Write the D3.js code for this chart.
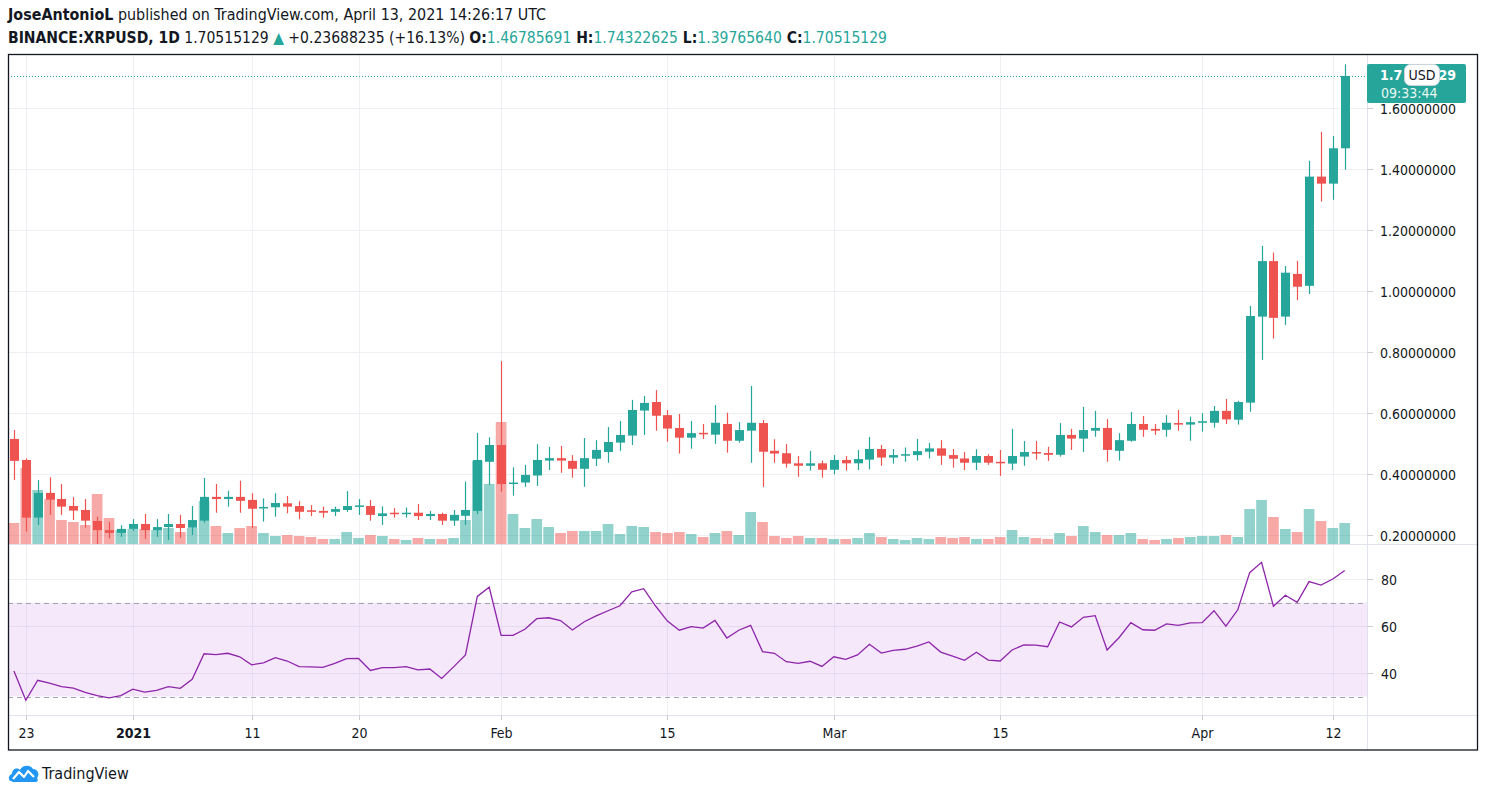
<!DOCTYPE html>
<html><head><meta charset="utf-8">
<script src="https://cdn.jsdelivr.net/npm/d3@7"></script>
<style>
body{margin:0;background:#fff;}
svg{display:block;font-family:"Liberation Sans Narrow","DejaVu Sans Condensed",Roboto,sans-serif;}
</style>
</head><body><svg id="c" width="1486" height="797"></svg>
<script>
// ---------- DATA ----------
const startDate = "2020-12-22";
const opens  = [0.515,0.446,0.257,0.338,0.318,0.295,0.282,0.246,0.216,0.207,0.220,0.236,0.216,0.226,0.236,0.224,0.247,0.325,0.318,0.325,
  0.315,0.288,0.291,0.304,0.295,0.281,0.279,0.276,0.282,0.294,0.295,0.262,0.273,0.269,0.273,0.262,0.269,0.247,0.263,0.279,
  0.440,0.495,0.367,0.372,0.395,0.444,0.452,0.443,0.417,0.450,0.472,0.503,0.526,0.608,0.636,0.593,0.551,0.519,0.535,0.529,
  0.564,0.509,0.542,0.567,0.476,0.468,0.435,0.427,0.435,0.414,0.446,0.435,0.447,0.482,0.454,0.460,0.462,0.473,0.484,0.462,
  0.451,0.437,0.459,0.440,0.434,0.457,0.472,0.469,0.463,0.528,0.516,0.542,0.551,0.476,0.509,0.564,0.548,0.545,0.567,0.562,
  0.568,0.568,0.607,0.578,0.634,0.916,1.098,0.916,1.056,1.017,1.375,1.352,1.46785691];
const highs  = [0.544,0.451,0.380,0.389,0.367,0.324,0.318,0.260,0.243,0.232,0.252,0.269,0.252,0.269,0.266,0.295,0.387,0.367,0.345,0.378,
  0.337,0.320,0.337,0.328,0.311,0.298,0.293,0.293,0.344,0.318,0.315,0.294,0.288,0.290,0.302,0.279,0.273,0.282,0.375,0.535,
  0.520,0.770,0.422,0.430,0.498,0.489,0.492,0.462,0.518,0.511,0.554,0.574,0.643,0.656,0.675,0.610,0.597,0.574,0.564,0.626,
  0.601,0.570,0.689,0.577,0.514,0.498,0.459,0.476,0.444,0.462,0.459,0.479,0.521,0.495,0.482,0.487,0.515,0.502,0.511,0.482,
  0.472,0.481,0.465,0.479,0.548,0.508,0.508,0.489,0.567,0.548,0.620,0.607,0.580,0.534,0.603,0.590,0.564,0.593,0.610,0.588,
  0.599,0.623,0.646,0.640,0.951,1.148,1.126,1.082,1.099,1.427,1.522,1.508,1.74322625];
const lows   = [0.380,0.211,0.233,0.266,0.266,0.249,0.224,0.170,0.189,0.194,0.214,0.187,0.194,0.184,0.191,0.200,0.240,0.273,0.293,0.273,
  0.224,0.244,0.260,0.271,0.252,0.262,0.257,0.262,0.276,0.266,0.247,0.233,0.257,0.257,0.249,0.249,0.233,0.230,0.233,0.268,
  0.364,0.342,0.329,0.358,0.361,0.413,0.404,0.388,0.358,0.426,0.437,0.476,0.495,0.528,0.542,0.506,0.467,0.483,0.515,0.499,
  0.470,0.503,0.437,0.358,0.437,0.421,0.391,0.411,0.388,0.399,0.411,0.413,0.415,0.427,0.434,0.440,0.444,0.451,0.430,0.421,
  0.413,0.413,0.430,0.394,0.413,0.427,0.447,0.443,0.457,0.479,0.472,0.522,0.440,0.444,0.506,0.522,0.528,0.522,0.542,0.509,
  0.539,0.552,0.564,0.562,0.604,0.774,0.844,0.889,0.970,0.990,1.293,1.299,1.39765640];
const closes = [0.443,0.257,0.338,0.316,0.293,0.280,0.247,0.216,0.207,0.220,0.236,0.216,0.226,0.236,0.223,0.249,0.325,0.318,0.325,0.312,
  0.286,0.292,0.305,0.293,0.276,0.276,0.273,0.285,0.295,0.297,0.266,0.271,0.269,0.273,0.262,0.269,0.247,0.266,0.282,0.446,
  0.495,0.367,0.372,0.397,0.446,0.452,0.444,0.417,0.452,0.479,0.505,0.528,0.610,0.633,0.591,0.549,0.519,0.534,0.530,0.568,
  0.509,0.544,0.568,0.473,0.467,0.434,0.427,0.435,0.414,0.446,0.435,0.449,0.482,0.454,0.462,0.465,0.475,0.484,0.460,0.450,
  0.437,0.459,0.437,0.435,0.459,0.472,0.467,0.463,0.528,0.516,0.544,0.551,0.479,0.511,0.564,0.545,0.542,0.568,0.562,0.570,
  0.573,0.607,0.579,0.636,0.918,1.098,0.912,1.060,1.014,1.375,1.352,1.468,1.70515129];
const volumes = [630,2280,1620,1350,720,660,570,1500,780,420,450,450,420,480,360,480,1290,540,330,480,
  540,330,240,270,240,210,150,150,360,180,270,240,150,120,180,150,150,180,720,2490,
  1800,3660,900,480,750,510,330,390,390,390,600,300,540,510,360,330,360,300,210,330,
  390,270,960,660,240,180,240,180,180,150,150,180,330,210,150,120,180,150,210,180,
  210,150,150,210,420,210,180,150,330,240,540,360,270,270,330,150,120,150,180,210,
  240,240,270,210,1050,1320,810,450,360,1050,690,480,630];
const rsiValues = [40.9,28.4,36.9,35.7,34.2,33.6,31.8,30.4,29.4,30.4,33.1,31.9,32.6,34.2,33.5,37.3,48.2,47.8,48.4,46.9,
  43.5,44.3,46.5,45.1,42.7,42.6,42.4,44.1,46.1,46.2,41.1,42.3,42.3,42.7,41.3,41.7,37.7,42.6,47.7,72.6,
  76.5,56.0,56.0,58.6,63.1,63.5,62.3,58.3,61.8,64.3,66.5,68.6,74.5,75.9,68.5,62.1,58.2,59.7,59.1,62.4,
  54.9,58.2,60.3,49.1,48.4,44.8,44.1,45.0,42.8,46.9,45.8,47.7,52.2,48.5,49.6,50.1,51.4,53.2,48.9,47.2,
  45.4,48.8,45.5,45.1,49.8,52.0,51.9,51.2,61.7,59.6,63.7,64.4,49.8,55.0,61.4,58.4,58.2,60.9,60.3,61.3,
  61.4,66.5,59.9,66.9,82.7,87.1,68.4,73.1,70.1,78.9,77.4,80.0,83.6];
const priceTicks = [0.2,0.4,0.6,0.8,1.0,1.2,1.4,1.6];
const rsiTicks = [40,60,80];
const rsiBands = [30,70];
const timeTickDates  = ["2020-12-23","2021-01-01","2021-01-11","2021-01-20","2021-02-01","2021-02-15","2021-03-01","2021-03-15","2021-04-01","2021-04-12"];
const timeTickLabels = ["23","2021","11","20","Feb","15","Mar","15","Apr","12"];
const lastPrice = 1.70515129;
const lastPriceVisible = ["1.7", "29"];   // parts of 1.70515129 not hidden by the USD badge
const countdownText = "09:33:44";

// ---------- LAYOUT ----------
const L = 8, R = 1367, FR = 1477, T = 55, PB = 544, RT = 545, RB = 715, AB = 750;
const GREEN = "#26a69a", RED = "#ef5350", TXT = "#131722", GRID = "#eef0f3";

const svg = d3.select("#c");
const parse = d3.utcParse("%Y-%m-%d");
const start = parse(startDate);
const days = closes.map((_, i) => d3.utcDay.offset(start, i));
const data = days.map((d, i) => ({d, o: opens[i], h: highs[i], l: lows[i], c: closes[i], v: volumes[i], r: rsiValues[i]}));

const x = d3.scaleUtc()
  .domain([d3.utcHour.offset(start, -11.7), d3.utcHour.offset(start, Math.round(113.86 * 24))])
  .range([L, R]);
const y = d3.scaleLinear().domain([0.2, 1.6]).range([535, 108]);
const yv = d3.scaleLinear().domain([0, 3660]).range([PB, 422]);
const yr = d3.scaleLinear().domain([40, 80]).range([673, 579]);

const defs = svg.append("defs");
defs.append("clipPath").attr("id", "cp").append("rect").attr("x", L).attr("y", T).attr("width", R - L).attr("height", PB - T);
defs.append("clipPath").attr("id", "cr").append("rect").attr("x", L).attr("y", RT).attr("width", R - L).attr("height", RB - RT);

// Header
const h1 = svg.append("text").attr("x", 8).attr("y", 20).attr("font-size", 15.5).attr("fill", TXT)
  .attr("textLength", 538).attr("lengthAdjust", "spacingAndGlyphs");
h1.append("tspan").attr("font-weight", "bold").text("JoseAntonioL");
h1.append("tspan").text(" published on TradingView.com, April 13, 2021 14:26:17 UTC");

const h2 = svg.append("text").attr("x", 8).attr("y", 43).attr("font-size", 15.5).attr("fill", TXT)
  .attr("textLength", 879).attr("lengthAdjust", "spacingAndGlyphs");
h2.append("tspan").attr("font-weight", "bold").text("BINANCE:XRPUSD, 1D");
h2.append("tspan").text(" 1.70515129 ");
h2.append("tspan").attr("fill", GREEN).text("▲");
h2.append("tspan").text(" +0.23688235 (+16.13%) ");
[["O:", "1.46785691"], ["H:", "1.74322625"], ["L:", "1.39765640"], ["C:", "1.70515129"]].forEach((p, i) => {
  h2.append("tspan").attr("font-weight", "bold").text((i ? " " : "") + p[0]);
  h2.append("tspan").attr("fill", GREEN).text(p[1]);
});

// Grid: horizontal
const grid = svg.append("g").attr("stroke", GRID).attr("stroke-width", 1);
priceTicks.forEach(t => grid.append("line").attr("x1", L).attr("x2", R).attr("y1", Math.round(y(t)) + 0.5).attr("y2", Math.round(y(t)) + 0.5));
rsiTicks.forEach(t => grid.append("line").attr("x1", L).attr("x2", R).attr("y1", Math.round(yr(t)) + 0.5).attr("y2", Math.round(yr(t)) + 0.5));
// vertical grid
timeTickDates.forEach(s => {
  const xx = Math.round(x(parse(s))) + 0.5;
  grid.append("line").attr("x1", xx).attr("x2", xx).attr("y1", T).attr("y2", RB);
});

// RSI band
svg.append("rect").attr("x", L).attr("width", R - L)
  .attr("y", yr(rsiBands[1])).attr("height", yr(rsiBands[0]) - yr(rsiBands[1]))
  .attr("fill", "#b042e0").attr("fill-opacity", 0.12);
rsiBands.forEach(b => svg.append("line").attr("x1", L).attr("x2", R)
  .attr("y1", Math.round(yr(b)) + 0.5).attr("y2", Math.round(yr(b)) + 0.5)
  .attr("stroke", "#a3a6af").attr("stroke-dasharray", "5,4").attr("stroke-width", 1));

// Volume
const step = x(days[1]) - x(days[0]);
const pg = svg.append("g").attr("clip-path", "url(#cp)");
pg.selectAll("rect.vol").data(data).join("rect").attr("class", "vol")
  .attr("x", d => x(d.d) - step / 2 + 0.6).attr("width", step - 1.2)
  .attr("y", d => yv(d.v)).attr("height", d => PB - yv(d.v))
  .attr("fill", d => d.c >= d.o ? GREEN : RED).attr("fill-opacity", 0.5);

// current price dotted line
pg.append("line").attr("x1", L).attr("x2", R).attr("y1", Math.round(y(lastPrice)) + 0.5).attr("y2", Math.round(y(lastPrice)) + 0.5)
  .attr("stroke", GREEN).attr("stroke-dasharray", "1,2");

// Candles
const cg = pg.selectAll("g.candle").data(data).join("g").attr("class", "candle")
  .attr("fill", d => d.c >= d.o ? GREEN : RED).attr("stroke", d => d.c >= d.o ? GREEN : RED);
cg.append("line").attr("x1", d => Math.round(x(d.d)) + 0.5).attr("x2", d => Math.round(x(d.d)) + 0.5)
  .attr("y1", d => y(d.h)).attr("y2", d => y(d.l)).attr("stroke-width", 1.2);
cg.append("rect").attr("stroke", "none")
  .attr("x", d => Math.round(x(d.d)) + 0.5 - 4.5).attr("width", 9)
  .attr("y", d => y(Math.max(d.o, d.c))).attr("height", d => Math.max(1.5, Math.abs(y(d.o) - y(d.c))));

// RSI line
svg.append("path").attr("clip-path", "url(#cr)").datum(data)
  .attr("d", d3.line().x(d => x(d.d)).y(d => yr(d.r)))
  .attr("fill", "none").attr("stroke", "#8e24aa").attr("stroke-width", 1.3);

// Separators and frame
const sep = svg.append("g").attr("stroke", "#e0e3eb").attr("stroke-width", 1);
sep.append("line").attr("x1", L).attr("x2", FR).attr("y1", 544.5).attr("y2", 544.5);
sep.append("line").attr("x1", L).attr("x2", FR).attr("y1", 715.5).attr("y2", 715.5);
sep.append("line").attr("x1", R + 0.5).attr("x2", R + 0.5).attr("y1", T).attr("y2", AB);

// Price axis
const pa = svg.append("g").attr("font-size", 14).attr("fill", TXT);
priceTicks.forEach(t => {
  const yy = Math.round(y(t)) + 0.5;
  pa.append("line").attr("x1", R).attr("x2", R + 6).attr("y1", yy).attr("y2", yy).attr("stroke", "#c9ccd3");
  pa.append("text").attr("x", 1380).attr("y", yy).attr("dy", "0.36em").attr("textLength", 76).attr("lengthAdjust", "spacingAndGlyphs")
    .text(d3.format(".8f")(t));
});
rsiTicks.forEach(t => {
  const yy = Math.round(yr(t)) + 0.5;
  pa.append("line").attr("x1", R).attr("x2", R + 6).attr("y1", yy).attr("y2", yy).attr("stroke", "#c9ccd3");
  pa.append("text").attr("x", 1381).attr("y", yy).attr("dy", "0.36em").text(t);
});

// Time axis
const ta = svg.append("g").attr("font-size", 14).attr("fill", TXT).attr("text-anchor", "middle");
timeTickDates.forEach((s, i) => {
  const xx = Math.round(x(parse(s))) + 0.5;
  ta.append("line").attr("x1", xx).attr("x2", xx).attr("y1", RB).attr("y2", RB + 5).attr("stroke", "#c9ccd3");
  ta.append("text").attr("x", xx).attr("y", 738)
    .attr("font-weight", timeTickLabels[i] === "2021" ? "bold" : "normal").text(timeTickLabels[i]);
});

// Last price label
const ly = y(lastPrice);
svg.append("rect").attr("x", R).attr("y", ly - 12).attr("width", 99).attr("height", 39).attr("rx", 2).attr("fill", GREEN);
svg.append("text").attr("x", 1380).attr("y", ly + 4).attr("fill", "#fff").attr("font-size", 14).attr("font-weight", "bold")
  .text(lastPriceVisible[0]);
svg.append("text").attr("x", 1456).attr("y", ly + 4).attr("fill", "#fff").attr("font-size", 14).attr("font-weight", "bold")
  .attr("text-anchor", "end").text(lastPriceVisible[1]);
svg.append("text").attr("x", 1381).attr("y", ly + 22).attr("fill", "#e8f6f4").attr("font-size", 14)
  .text(countdownText);
svg.append("rect").attr("x", 1404.5).attr("y", ly - 11.5).attr("width", 35).attr("height", 21).attr("rx", 6)
  .attr("fill", "#fff").attr("stroke", "#d1d4dc");
svg.append("text").attr("x", 1422).attr("y", ly + 4).attr("text-anchor", "middle").attr("font-size", 14).attr("fill", TXT).text("USD");

// Frame
svg.append("rect").attr("x", L + 0.5).attr("y", T - 0.5).attr("width", FR - L).attr("height", AB - T + 0.5)
  .attr("fill", "none").attr("stroke", "#131722").attr("stroke-width", 1.3);

// TradingView logo
const lg = svg.append("g").attr("transform", "translate(9,763)");
lg.append("path").attr("d", "M2,18 C-1,18 -1,12 3,11 C3,6 8,4 11,7 C13,2 21,1 24,6 C29,6 31,12 28,15 C30,18 28,19 26,19 L4,19 Z")
  .attr("fill", "#2196f3");
lg.append("path").attr("d", "M4,16 L10,9 L15,14 L19,8 L25,14").attr("fill", "none").attr("stroke", "#fff").attr("stroke-width", 2.2)
  .attr("stroke-linejoin", "round");
svg.append("text").attr("x", 42).attr("y", 779).attr("font-size", 16).attr("fill", TXT).text("TradingView");
</script>
</body></html>
